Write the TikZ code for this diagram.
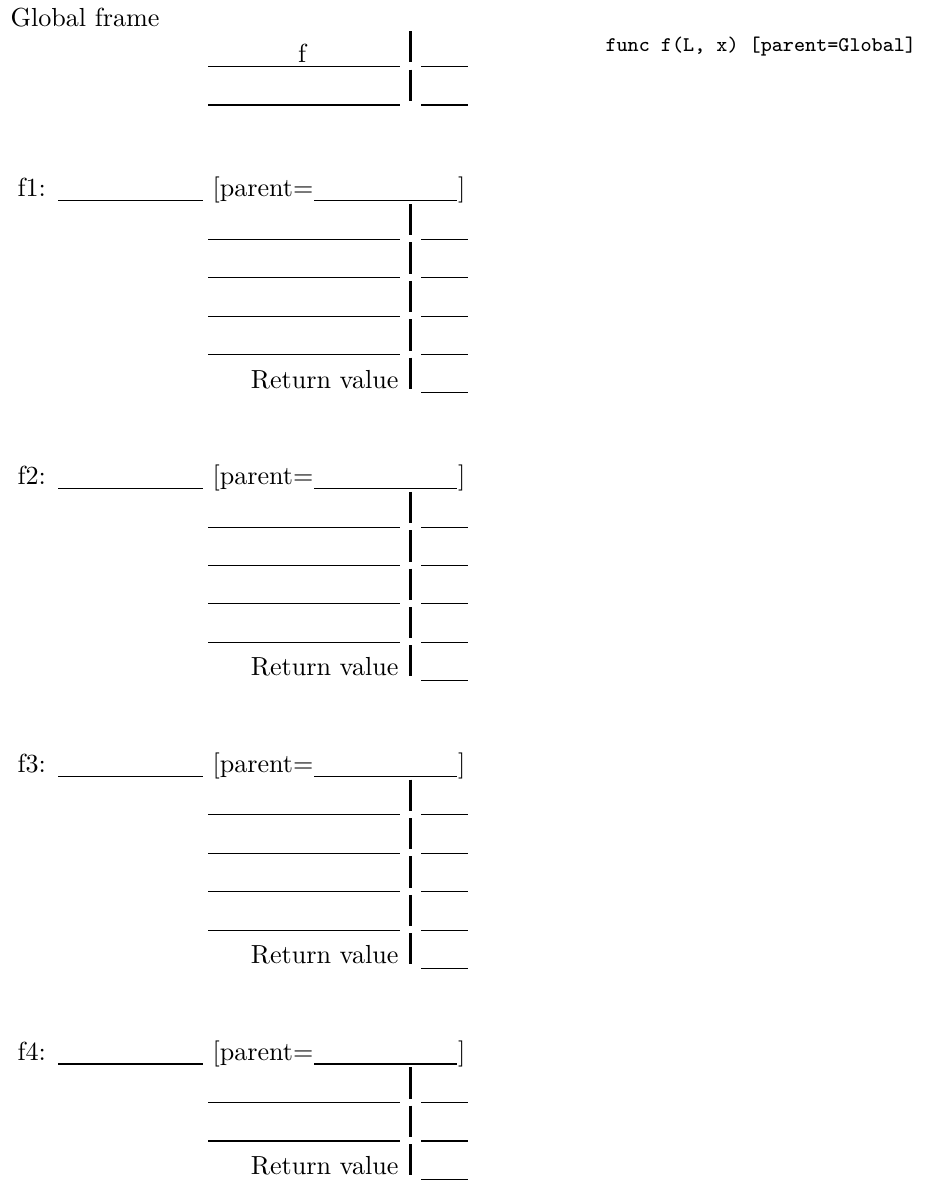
\documentclass[tikz,border=0pt]{standalone}
\begin{document}
\begin{tikzpicture}[x=0.383pt,y=-0.383pt,
  txt/.style={inner sep=0pt, font=\fontsize{10}{12}\selectfont},
  code/.style={inner sep=0pt, font=\ttfamily\footnotesize},
  hline/.style={line width=0.4pt},
  vbar/.style={line width=1.15pt}]
\useasboundingbox (0,0) rectangle (933,1181);

% Global frame
\node[txt, anchor=base west] (gtitle) at (10,26) {Global frame};
\node[code, anchor=base west] (gcode) at (605,51) {func f(L, x) [parent=Global]};
\node[txt, anchor=base] (gname) at (302,62) {f};
\foreach \L [count=\i] in {66.3,105} {
  \draw[hline] (208,\L) -- (400,\L);
  \draw[hline] (421,\L) -- (468,\L);
  \draw[vbar] (410,{\L-35.3}) -- (410,{\L-4});
}

% Function frames
\foreach \fname/\H/\n in {f1/200.7/4, f2/488.5/4, f3/776.3/4, f4/1064/2} {
  \node[txt, anchor=base west] (\fname-lab) at (17,{\H-4}) {\fname:};
  \draw[hline] (58,\H) -- (203,\H);
  \node[txt, anchor=base west] (\fname-par) at (212,{\H-4}) {[parent=};
  \draw[hline] (314,\H) -- (457,\H);
  \node[txt, anchor=base west] (\fname-br) at (457.5,{\H-4}) {]};
  \foreach \k in {1,...,\n} {
    \pgfmathsetmacro\L{\H+38.6+(\k-1)*38.4}
    \draw[hline] (208,\L) -- (400,\L);
    \draw[hline] (421,\L) -- (468,\L);
    \draw[vbar] (410,{\L-35.3}) -- (410,{\L-4});
  }
  \pgfmathsetmacro\R{\H+38.6+\n*38.4}
  \node[txt, anchor=base east] (\fname-ret) at (399,{\R-4.8}) {Return value};
  \draw[hline] (421,\R) -- (468,\R);
  \draw[vbar] (410,{\R-35.3}) -- (410,{\R-4.3});
}
\end{tikzpicture}
\end{document}
